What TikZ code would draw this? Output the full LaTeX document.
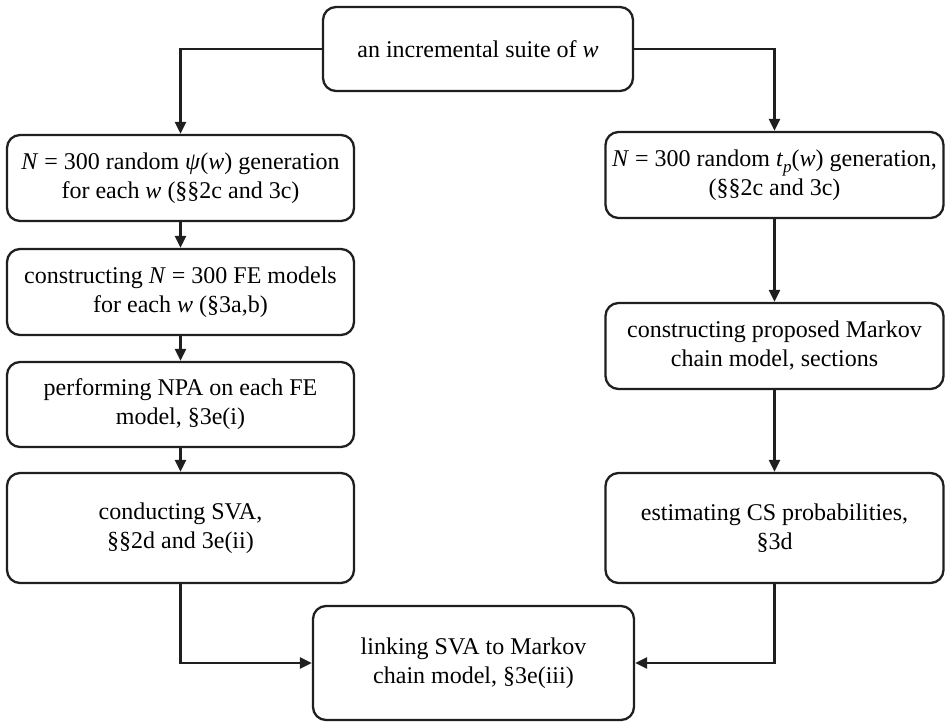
\documentclass[tikz,border=0pt]{standalone}
\usepackage{fontspec}
\setmainfont{Liberation Serif}
\usetikzlibrary{arrows.meta}
\tikzset{
  box/.style={draw=black!88, line width=2.3pt, rounded corners=13pt, align=center,
    inner sep=0pt, font=\fontsize{24}{29}\selectfont},
  conn/.style={draw=black!88, line width=2.3pt, -{Triangle[length=12pt,width=11pt]}}
}
\newcommand{\iw}{\textit{w}}
\begin{document}
\begin{tikzpicture}[x=1pt,y=-1pt]
\useasboundingbox (0,0) rectangle (945,722);
\node[box, minimum width=310pt, minimum height=84pt] (top) at (478,49) {an incremental suite of \iw};
\node[box, minimum width=347pt, minimum height=86pt] (L1) at (180.5,178) {\textit{N} = 300 random \textit{ψ}(\iw) generation\\for each \iw{} (§§2c and 3c)};
\node[box, minimum width=347pt, minimum height=86pt] (L2) at (180.5,292) {constructing \textit{N} = 300 FE models\\for each \iw{} (§3a,b)};
\node[box, minimum width=347pt, minimum height=85pt] (L3) at (180.5,404.5) {performing NPA on each FE\\model, §3e(i)};
\node[box, minimum width=347pt, minimum height=110pt] (L4) at (180.5,528) {conducting SVA,\\§§2d and 3e(ii)};
\node[box, minimum width=338pt, minimum height=86pt] (R1) at (774.5,175) {\textit{N} = 300 random \textit{t}\raisebox{-6pt}{\fontsize{17}{17}\selectfont\textit{p}}(\iw) generation,\\(§§2c and 3c)};
\node[box, minimum width=338pt, minimum height=86pt] (R2) at (774.5,346) {constructing proposed Markov\\chain model, sections};
\node[box, minimum width=338pt, minimum height=110pt] (R3) at (774.5,528) {estimating CS probabilities,\\§3d};
\node[box, minimum width=321pt, minimum height=114pt] (B) at (473.5,663) {linking SVA to Markov\\chain model, §3e(iii)};
\draw[conn] (top.west) -| (L1.north);
\draw[conn] (top.east) -| (R1.north);
\draw[conn] (L1) -- (L2);
\draw[conn] (L2) -- (L3);
\draw[conn] (L3) -- (L4);
\draw[conn] (R1) -- (R2);
\draw[conn] (R2) -- (R3);
\draw[conn] (L4.south) |- (B.west);
\draw[conn] (R3.south) |- (B.east);
\end{tikzpicture}
\end{document}
